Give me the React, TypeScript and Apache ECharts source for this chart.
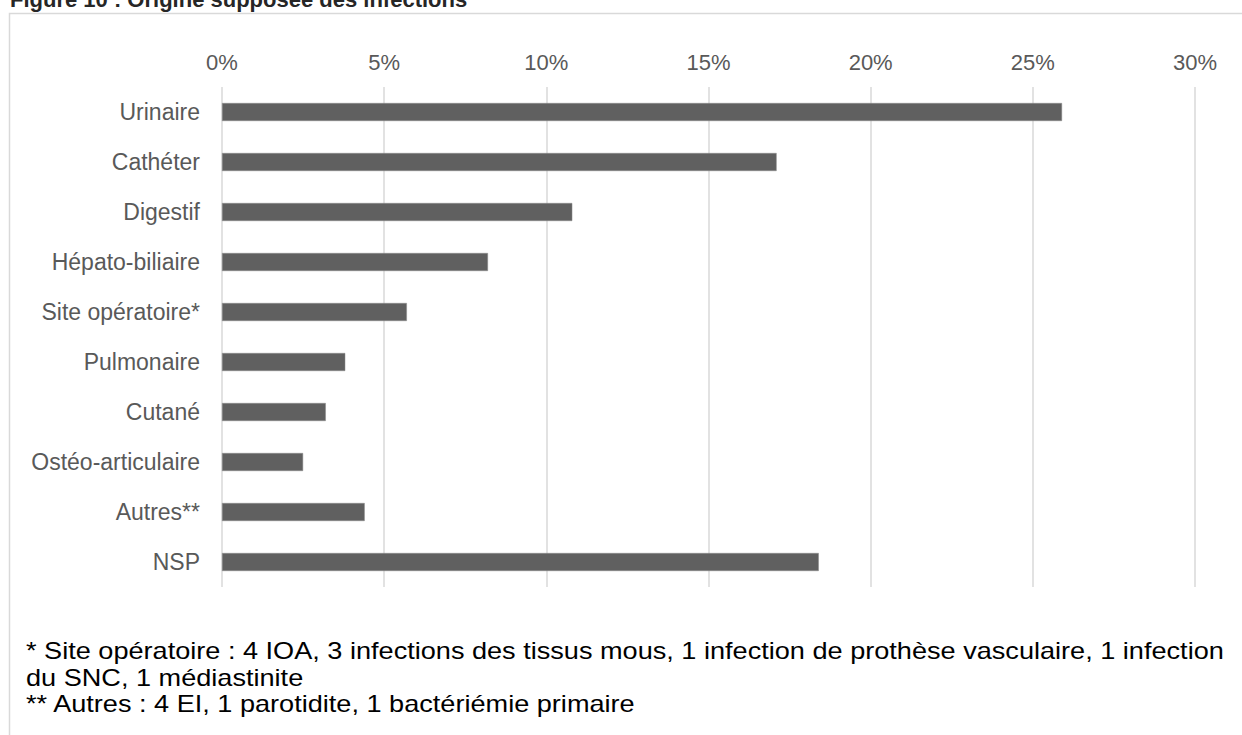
import React, { useEffect, useRef } from "react";
import * as echarts from "echarts";

const categories = [
  "Urinaire",
  "Cathéter",
  "Digestif",
  "Hépato-biliaire",
  "Site opératoire*",
  "Pulmonaire",
  "Cutané",
  "Ostéo-articulaire",
  "Autres**",
  "NSP",
];
const values = [25.9, 17.1, 10.8, 8.2, 5.7, 3.8, 3.2, 2.5, 4.4, 18.4];
const axisMin = 0;
const axisMax = 30;
const axisStep = 5;

const titleText = "Figure 10 : Origine supposée des infections";
const footnotes = [
  "* Site opératoire : 4 IOA, 3 infections des tissus mous, 1 infection de prothèse vasculaire, 1 infection",
  "du SNC, 1 médiastinite",
  "** Autres : 4 EI, 1 parotidite, 1 bactériémie primaire",
];

const FONT = "Arial, 'Liberation Sans', sans-serif";

export default function App() {
  const ref = useRef<HTMLDivElement>(null);
  useEffect(() => {
    if (!ref.current) return;
    const chart = echarts.init(ref.current, null, { renderer: "svg" });
    const footY = [651, 678, 704];
    chart.setOption({
      animation: false,
      backgroundColor: "#ffffff",
      textStyle: { fontFamily: FONT },
      grid: { left: 222, right: 47, top: 87, height: 500, containLabel: false },
      xAxis: {
        type: "value",
        position: "top",
        min: axisMin,
        max: axisMax,
        interval: axisStep,
        axisLine: { show: false },
        axisTick: { show: false },
        axisLabel: {
          formatter: "{value}%",
          fontSize: 22,
          color: "#595959",
          fontFamily: FONT,
          margin: 14,
        },
        splitLine: { show: true, lineStyle: { color: "#d9d9d9", width: 1.5 } },
      },
      yAxis: {
        type: "category",
        inverse: true,
        data: categories,
        axisLine: { show: false },
        axisTick: { show: false },
        axisLabel: {
          fontSize: 23,
          color: "#595959",
          fontFamily: FONT,
          margin: 22,
        },
      },
      series: [
        {
          type: "bar",
          data: values,
          barWidth: 18,
          itemStyle: { color: "#606060", borderColor: "#8a8a8a", borderWidth: 0.5 },
        },
      ],
      graphic: [
        {
          type: "rect",
          shape: { x: 9.5, y: 13.5, width: 1260, height: 740 },
          style: { fill: "none", stroke: "#d9d9d9", lineWidth: 1.5 },
          silent: true,
        },
        {
          type: "text",
          x: 10,
          y: 10,
          style: {
            text: titleText,
            fontSize: 22,
            fontWeight: "bold",
            fontFamily: FONT,
            fill: "#262626",
            verticalAlign: "bottom",
          },
        },
        ...footnotes.map((t, i) => ({
          type: "text",
          x: 26,
          y: footY[i],
          scaleX: 1.13,
          style: {
            text: t,
            fontSize: 24,
            fontFamily: FONT,
            fill: "#000000",
            verticalAlign: "middle",
          },
        })),
      ],
    });
    return () => chart.dispose();
  }, []);
  return (
    <div
      ref={ref}
      style={{ position: "fixed", left: 0, top: 0, width: 1242, height: 735 }}
    />
  );
}
